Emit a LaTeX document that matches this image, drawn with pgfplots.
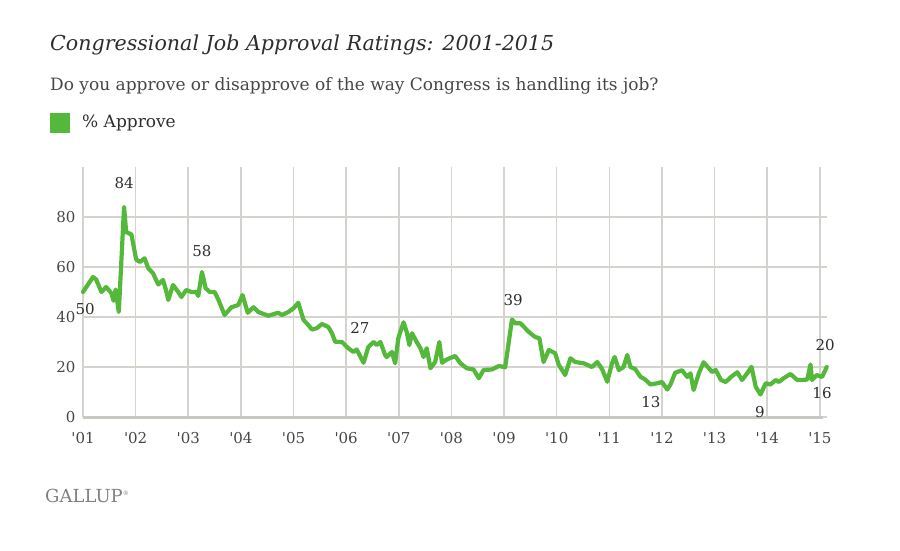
\documentclass[border=0pt]{standalone}
\usepackage{fontspec}
\setmainfont{DejaVu Serif}
\usepackage{pgfplots}
\pgfplotsset{compat=1.18}
\definecolor{gline}{RGB}{84,184,58}
\definecolor{gridc}{RGB}{212,211,206}
\definecolor{basec}{RGB}{200,199,194}
\definecolor{txt}{RGB}{45,45,45}
\definecolor{tickc}{RGB}{70,70,70}
\begin{document}
\begin{tikzpicture}[x=1pt,y=1pt]
\path (0pt,0pt) rectangle (900pt,550pt);
\node[anchor=base west, font=\fontsize{20.6}{24}\selectfont\itshape, text=txt, inner sep=0] at (50pt,499pt) {Congressional Job Approval Ratings: 2001-2015};
\node[anchor=base west, font=\fontsize{17}{20}\selectfont, text=tickc, inner sep=0] at (50pt,459pt) {Do you approve or disapprove of the way Congress is handling its job?};
\fill[gline] (50pt,417pt) rectangle (70pt,437pt);
\node[anchor=base west, font=\fontsize{17}{20}\selectfont, text=txt, inner sep=0] at (82pt,422pt) {\% Approve};
\node[anchor=base west, font=\fontsize{18}{21}\selectfont, text=gray, inner sep=0] at (45pt,48pt) {GALLUP\textsuperscript{\fontsize{6}{7}\selectfont\textregistered}};
\begin{axis}[
  at={(83pt,133pt)}, anchor=south west,
  scale only axis, width=744.3pt, height=250pt,
  xmin=2001, xmax=2015.14, ymin=0, ymax=100,
  xtick={2001,...,2015},
  xticklabels={\textquotesingle01,\textquotesingle02,\textquotesingle03,\textquotesingle04,\textquotesingle05,\textquotesingle06,\textquotesingle07,\textquotesingle08,\textquotesingle09,\textquotesingle10,\textquotesingle11,\textquotesingle12,\textquotesingle13,\textquotesingle14,\textquotesingle15},
  ytick={0,20,40,60,80},
  /pgf/number format/assume math mode=true,
  axis line style={draw=none},
  major tick length=0pt,
  grid=major,
  major grid style={draw=gridc, line width=1.6pt},
  yticklabel style={font=\fontsize{15}{18}\selectfont, text=tickc, xshift=-4pt},
  xticklabel style={font=\fontsize{15}{18}\selectfont, text=tickc, yshift=-12pt},
  clip=false,
]
\draw[basec, line width=3pt] (axis cs:2001,0) -- (axis cs:2015.05,0);
\addplot[gline, line width=4.2pt, line join=round, line cap=round] coordinates {
(2001.00,50) (2001.19,56) (2001.25,55) (2001.35,50) (2001.44,52) (2001.54,49.5) (2001.58,46.5) (2001.62,51) (2001.68,42) (2001.78,84)
(2001.82,74) (2001.92,73) (2002.01,63) (2002.08,62) (2002.17,63.5) (2002.24,59.5) (2002.33,57.5) (2002.43,53) (2002.52,54.8) (2002.58,50.5)
(2002.62,46.8) (2002.71,52.8) (2002.81,50) (2002.87,48) (2002.96,50.8) (2003.06,50) (2003.15,50) (2003.19,48.4) (2003.26,58) (2003.33,51.5)
(2003.41,50) (2003.50,50) (2003.57,47) (2003.69,40.8) (2003.82,43.9) (2003.95,44.8) (2004.03,48.8) (2004.13,41.7) (2004.24,43.9) (2004.33,42)
(2004.52,40.5) (2004.71,41.7) (2004.78,40.8) (2004.90,42) (2005.00,43.5) (2005.09,45.7) (2005.19,38.8) (2005.25,37.5) (2005.35,35) (2005.44,35.5)
(2005.54,37.2) (2005.66,36) (2005.73,33.5) (2005.79,30.1) (2005.92,30) (2006.04,27.5) (2006.14,26) (2006.20,27) (2006.33,21.7) (2006.42,28)
(2006.52,30) (2006.58,28.8) (2006.65,30) (2006.74,24.8) (2006.77,24) (2006.87,26) (2006.93,21.5) (2006.99,31.5) (2007.09,37.9) (2007.15,34)
(2007.20,28.8) (2007.25,33.5) (2007.34,30) (2007.41,27.5) (2007.47,24) (2007.53,27.5) (2007.60,19.5) (2007.69,22) (2007.77,30) (2007.82,21.7)
(2007.91,23) (2008.07,24.4) (2008.17,21.5) (2008.29,19.5) (2008.42,19) (2008.52,15.5) (2008.61,18.8) (2008.77,19) (2008.90,20.4) (2009.02,19.9)
(2009.15,39) (2009.21,37.5) (2009.31,37.5) (2009.47,34) (2009.59,32) (2009.67,31.5) (2009.75,22) (2009.85,26.8) (2009.97,25.5) (2010.04,20.8)
(2010.16,16.8) (2010.26,23.5) (2010.35,22) (2010.51,21.5) (2010.67,20) (2010.77,22) (2010.86,19.2) (2010.96,14.1) (2011.05,21.5) (2011.10,24)
(2011.18,18.8) (2011.27,20) (2011.34,24.8) (2011.40,20) (2011.49,19.2) (2011.59,16.1) (2011.68,15) (2011.78,13) (2011.91,13.5) (2012.00,14)
(2012.10,11) (2012.16,13) (2012.25,17.7) (2012.38,18.7) (2012.48,16) (2012.54,17.5) (2012.60,10.8) (2012.70,17.5) (2012.79,21.9) (2012.89,19.5)
(2012.95,18) (2013.02,18.8) (2013.12,14.8) (2013.21,14) (2013.31,16) (2013.43,17.9) (2013.52,14.8) (2013.62,17.5) (2013.70,20.1) (2013.78,12.1)
(2013.87,9) (2013.97,13.5) (2014.06,13) (2014.16,14.8) (2014.22,14) (2014.31,15.5) (2014.44,17.2) (2014.57,14.8) (2014.66,14.8) (2014.76,15)
(2014.82,21) (2014.85,14.8) (2014.94,16.8) (2015.04,16) (2015.13,20)
};
\begin{scope}[every node/.style={font=\fontsize{15}{18}\selectfont, text=txt, inner sep=0}]
\node at (axis cs:2001.04,43.2) {50};
\node at (axis cs:2001.78,93.4) {84};
\node at (axis cs:2003.26,66.4) {58};
\node at (axis cs:2006.26,35.6) {27};
\node at (axis cs:2009.17,46.8) {39};
\node at (axis cs:2011.79,6) {13};
\node at (axis cs:2013.86,2) {9};
\node at (axis cs:2015.04,9.6) {16};
\node at (axis cs:2015.10,28.8) {20};
\end{scope}
\end{axis}
\end{tikzpicture}
\end{document}
